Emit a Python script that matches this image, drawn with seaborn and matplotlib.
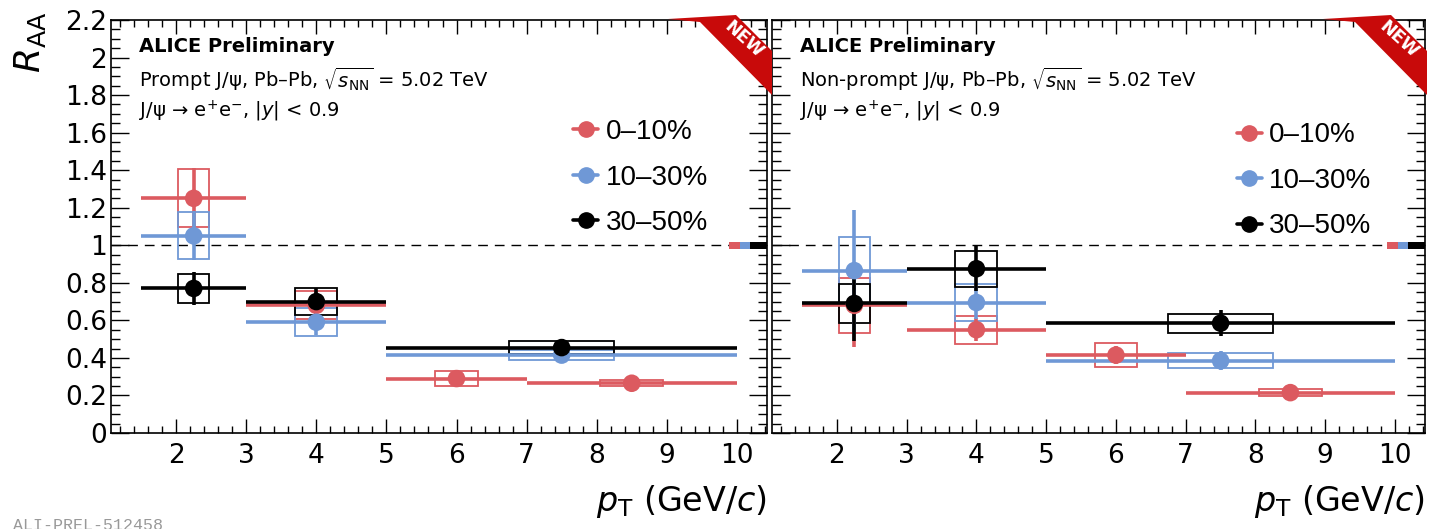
import numpy as np
import pandas as pd
import matplotlib
matplotlib.use("Agg")
import matplotlib.pyplot as plt
import seaborn as sns
from matplotlib.patches import Rectangle, Polygon
from matplotlib.lines import Line2D
from matplotlib.ticker import MultipleLocator

# pT bins (GeV/c)
bins_4 = [(1.5, 3), (3, 5), (5, 7), (7, 10)]
bins_3 = [(1.5, 3), (3, 5), (5, 10)]

centralities = ["0–10%", "10–30%", "30–50%"]
colors = ["#dc5a60", "#6f98d6", "#000000"]

# Prompt J/psi
prompt_raa = {"0–10%": [1.25, 0.68, 0.29, 0.265],
              "10–30%": [1.05, 0.59, 0.415],
              "30–50%": [0.77, 0.70, 0.455]}
prompt_stat = {"0–10%": [0.16, 0.07, 0.03, 0.03],
               "10–30%": [0.13, 0.07, 0.04],
               "30–50%": [0.09, 0.07, 0.045]}
prompt_sys = {"0–10%": [0.155, 0.075, 0.04, 0.016],
              "10–30%": [0.125, 0.075, 0.025],
              "30–50%": [0.075, 0.07, 0.035]}

# Non-prompt J/psi
nonprompt_raa = {"0–10%": [0.68, 0.55, 0.415, 0.215],
                 "10–30%": [0.865, 0.695, 0.385],
                 "30–50%": [0.69, 0.875, 0.585]}
nonprompt_stat = {"0–10%": [0.22, 0.06, 0.05, 0.03],
                  "10–30%": [0.325, 0.09, 0.05],
                  "30–50%": [0.2, 0.12, 0.07]}
nonprompt_sys = {"0–10%": [0.145, 0.075, 0.065, 0.02],
                 "10–30%": [0.18, 0.10, 0.04],
                 "30–50%": [0.105, 0.095, 0.05]}

# global normalisation uncertainty at R_AA = 1
norm_unc = [0.02, 0.02, 0.02]
norm_x = [(9.89, 10.04), (10.04, 10.19), (10.19, 10.43)]

cent_bins = {"0–10%": bins_4, "10–30%": bins_3, "30–50%": bins_3}

W, H = 1429, 529

sns.set_theme(style="ticks")
plt.rcParams["font.family"] = ["DejaVu Sans"]
plt.rcParams["mathtext.fontset"] = "dejavusans"
plt.rcParams["text.color"] = "black"
plt.rcParams["axes.labelcolor"] = "black"


def to_frame(raa, stat, sys_):
    rows = []
    for c in centralities:
        for (lo, hi), v, s, e in zip(cent_bins[c], raa[c], stat[c], sys_[c]):
            rows.append(dict(cent=c, lo=lo, hi=hi, pt=(lo + hi) / 2, raa=v, stat=s, sys=e))
    return pd.DataFrame(rows)


def draw_panel(ax, df, lines, leg_anchor):
    ax.axhline(1, color="black", lw=1.0, ls=(0, (7, 5)), zorder=1)
    for c, col in zip(centralities, colors):
        d = df[df.cent == c]
        for _, r in d.iterrows():
            bw = 0.3 * (r.hi - r.lo)
            ax.add_patch(Rectangle((r.pt - bw / 2, r.raa - r.sys), bw, 2 * r.sys,
                                   fill=False, edgecolor=col, lw=1.3, zorder=3))
        ax.errorbar(d.pt, d.raa, xerr=[d.pt - d.lo, d.hi - d.pt], yerr=d.stat,
                    fmt="none", ecolor=col, elinewidth=2.6, capsize=0, zorder=4)
    sns.scatterplot(data=df, x="pt", y="raa", hue="cent", palette=colors,
                    hue_order=centralities, s=160, edgecolor="none",
                    legend=False, ax=ax, zorder=5)
    for (x0, x1), u, col in zip(norm_x, norm_unc, colors):
        ax.add_patch(Rectangle((x0, 1 - u), x1 - x0, 2 * u, facecolor=col,
                               edgecolor="none", zorder=6, clip_on=False))

    ax.set_xlim(1.07, 10.43)
    ax.set_ylim(0, 2.2)
    ax.xaxis.set_minor_locator(MultipleLocator(0.2))
    ax.yaxis.set_minor_locator(MultipleLocator(0.05))
    ax.set_xticks(range(2, 11))
    ax.set_yticks(np.round(np.arange(0, 2.21, 0.2), 1))
    ax.set_yticklabels(["0", "0.2", "0.4", "0.6", "0.8", "1", "1.2", "1.4",
                        "1.6", "1.8", "2", "2.2"])
    ax.tick_params(axis="both", which="both", direction="in", top=True,
                   right=True, width=1.0, labelsize=19, colors="black")
    ax.tick_params(axis="x", which="major", length=10, pad=7)
    ax.tick_params(axis="x", which="minor", length=5)
    ax.tick_params(axis="y", which="major", length=13, pad=3)
    ax.tick_params(axis="y", which="minor", length=6.5)
    for s in ax.spines.values():
        s.set_linewidth(1.2)
        s.set_color("black")
    ax.set_xlabel(r"$p_{\rm T}$ (GeV/$c$)", fontsize=24, loc="right", labelpad=10)
    ax.set_ylabel("")

    ax.text(0.043, 0.937, "ALICE Preliminary", transform=ax.transAxes,
            fontsize=14, fontweight="bold", va="center", color="black")
    ax.text(0.043, 0.858, lines[0], transform=ax.transAxes, fontsize=14,
            va="center", color="black")
    ax.text(0.043, 0.78, lines[1], transform=ax.transAxes, fontsize=14,
            va="center", color="black")

    handles = [Line2D([0], [0], color=col, lw=2.6, marker="o", markersize=11)
               for col in colors]
    leg = ax.legend(handles, centralities, loc="upper left", bbox_to_anchor=leg_anchor,
                    bbox_transform=ax.transAxes, frameon=False,
                    prop={"family": "Liberation Sans", "size": 20},
                    handlelength=0.9, handletextpad=0.25, labelspacing=0.7,
                    borderpad=0, borderaxespad=0)
    for t in leg.get_texts():
        t.set_color("black")


fig = plt.figure(figsize=(W / 100, H / 100), dpi=100)
ax1 = fig.add_axes([111 / W, 96 / H, 656 / W, 413 / H])
ax2 = fig.add_axes([772 / W, 96 / H, 653 / W, 413 / H])

decay = r"J/ψ → e$^{+}$e$^{-}$, |$y$| < 0.9"
draw_panel(ax1, to_frame(prompt_raa, prompt_stat, prompt_sys),
           [r"Prompt J/ψ, Pb–Pb, $\sqrt{s_{\rm NN}}$ = 5.02 TeV", decay],
           (0.705, 0.76))
draw_panel(ax2, to_frame(nonprompt_raa, nonprompt_stat, nonprompt_sys),
           [r"Non-prompt J/ψ, Pb–Pb, $\sqrt{s_{\rm NN}}$ = 5.02 TeV", decay],
           (0.712, 0.752))
ax2.tick_params(axis="y", which="both", labelleft=False)

fig.text(30 / W, 1 - 12 / H, r"$R_{\rm AA}$", rotation=90, fontsize=26,
         ha="center", va="top", color="black")


# "NEW" corner ribbons
def ribbon(dx):
    pts = [(668 + dx, 19), (736 + dx, 15), (772 + dx, 51), (772 + dx, 95), (700 + dx, 22)]
    fig.patches.append(Polygon([(x / W, 1 - y / H) for x, y in pts], closed=True,
                               transform=fig.transFigure, facecolor="#c80a0a",
                               edgecolor="none", zorder=10))
    fig.text((744 + dx) / W, 1 - 40 / H, "NEW", rotation=-42, color="white",
             fontsize=12.5, fontweight="bold", ha="center", va="center", zorder=11)


ribbon(0)
ribbon(655)

fig.text(13 / W, 1 - 518 / H, "ALI-PREL-512458", family="Liberation Mono",
         fontsize=12, color="#999999", va="top", ha="left")

fig.savefig("out.png", dpi=100)
